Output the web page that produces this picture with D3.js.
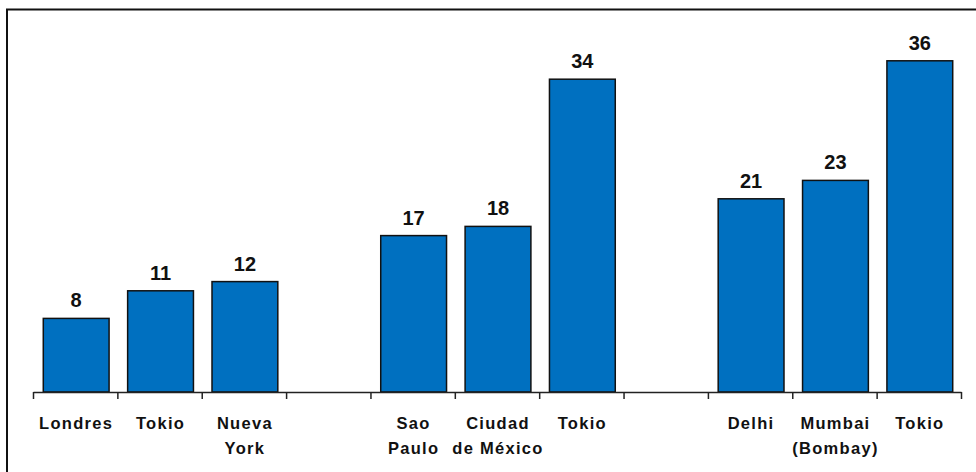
<!DOCTYPE html>
<html>
<head>
<meta charset="utf-8">
<script src="https://cdn.jsdelivr.net/npm/d3@7"></script>
<style>
  body { margin: 0; background: #fff; }
  svg { display: block; font-family: Arial, "Liberation Sans", sans-serif; }
  .value-label { font-size: 20px; font-weight: bold; fill: #111; text-anchor: middle; }
  .cat-label { font-size: 16.5px; font-weight: bold; fill: #111; text-anchor: middle; letter-spacing: 1.3px; }
  .axis path, .axis line { stroke: #222; stroke-width: 1.5px; }
</style>
</head>
<body>
<div id="wrapper"></div>
<script>
// Data - empty strings / nulls are the gaps between the groups
const categories = ['Londres', 'Tokio', 'Nueva\nYork', '', 'Sao\nPaulo', 'Ciudad\nde México', 'Tokio', '', 'Delhi', 'Mumbai\n(Bombay)', 'Tokio']
const values = [8, 11, 12, null, 17, 18, 34, null, 21, 23, 36]
const yMax = 40

function drawChart() {
  const dimensions = {
    width: 976,
    height: 472,
    left: 33,
    right: 961,
    baseline: 392,
    top: 24,
  }

  const wrapper = d3.select('#wrapper')
    .append('svg')
    .attr('width', dimensions.width)
    .attr('height', dimensions.height)

  // Chart frame (runs off the right and bottom edges)
  wrapper.append('rect')
    .attr('x', 7)
    .attr('y', 9.5)
    .attr('width', 1000)
    .attr('height', 500)
    .attr('fill', 'none')
    .attr('stroke', '#111')
    .attr('stroke-width', 2)

  const slots = d3.range(categories.length)

  // Scales
  const xScale = d3.scaleBand()
    .domain(slots)
    .range([dimensions.left, dimensions.right])
    .padding(0)

  const tickScale = d3.scaleLinear()
    .domain([0, categories.length])
    .range([dimensions.left, dimensions.right])

  const yScale = d3.scaleLinear()
    .domain([0, yMax])
    .range([dimensions.baseline, dimensions.top])

  const barWidth = xScale.bandwidth() * 0.78
  const barOffset = (xScale.bandwidth() - barWidth) / 2 + 1

  const data = slots.filter(i => values[i] != null)

  // Bars
  wrapper.append('g')
    .selectAll('rect')
    .data(data)
    .join('rect')
    .attr('x', i => xScale(i) + barOffset)
    .attr('y', i => yScale(values[i]))
    .attr('width', barWidth)
    .attr('height', i => yScale(0) - yScale(values[i]))
    .attr('fill', '#0070C0')
    .attr('stroke', '#111')
    .attr('stroke-width', 1.5)

  // Value labels
  wrapper.append('g')
    .selectAll('text')
    .data(data)
    .join('text')
    .attr('class', 'value-label')
    .attr('x', i => xScale(i) + barOffset + barWidth / 2)
    .attr('y', i => yScale(values[i]) - 11)
    .text(i => values[i])

  // X axis with ticks on the band boundaries
  const xAxis = d3.axisBottom(tickScale)
    .tickValues(d3.range(categories.length + 1))
    .tickSize(7)
    .tickSizeOuter(0)
    .tickFormat('')

  wrapper.append('g')
    .attr('class', 'axis')
    .attr('transform', `translate(0,${dimensions.baseline})`)
    .call(xAxis)

  // Category labels (may be two lines)
  const catLabels = wrapper.append('g')
    .selectAll('text')
    .data(slots.filter(i => categories[i]))
    .join('text')
    .attr('class', 'cat-label')
    .attr('x', i => xScale(i) + xScale.bandwidth() / 2 + 1)
    .attr('y', 429)

  catLabels.selectAll('tspan')
    .data(i => categories[i].split('\n'))
    .join('tspan')
    .attr('x', function () { return d3.select(this.parentNode).attr('x') })
    .attr('dy', (d, j) => j === 0 ? 0 : 25)
    .text(d => d)
}
drawChart()
</script>
</body>
</html>
